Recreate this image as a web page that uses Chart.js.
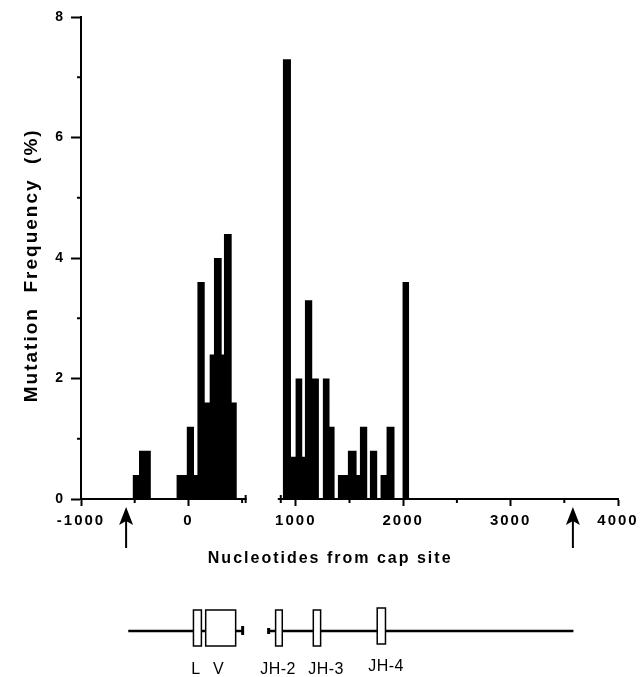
<!DOCTYPE html>
<html>
<head>
<meta charset="utf-8">
<script src="https://cdn.jsdelivr.net/npm/chart.js@4.4.1/dist/chart.umd.min.js"></script>
<style>
  html, body { margin: 0; padding: 0; background: #fff; }
  #wrap { position: relative; width: 641px; height: 677px; }
</style>
</head>
<body>
<div id="wrap"><canvas id="mutation-profile"></canvas></div>
<script>
// Histogram bins: left edge (nt from cap site) and mutation frequency (%) held until next edge
const binEdges = [-520, -460, -350, -110, -15, 52, 84, 152, 198, 238, 310, 331, 403, 450,
  880, 955, 998, 1060, 1085, 1153, 1215, 1252, 1314, 1361, 1392, 1485, 1566, 1597, 1665,
  1690, 1758, 1789, 1845, 1919, 1994, 2056];
const binValues = [0.4, 0.8, 0, 0.4, 1.2, 0.4, 3.6, 1.6, 2.4, 4.0, 2.4, 4.4, 1.6, 0,
  7.3, 0.7, 2.0, 0.7, 3.3, 2.0, 0, 2.0, 1.2, 0, 0.4, 0.8, 0.4, 1.2, 0,
  0.8, 0, 0.4, 1.2, 0, 3.6, 0];

// Axis marks
const xMinorTicks = [-500, 500, 1500, 2500, 3500];
const yMinorTicks = [1, 3, 5, 7];
const axisBreak = [533, 860];
const arrowMarks = [-580, 3580];

// Gene map below the axis (in the same nt coordinates)
const geneLine = [[-560, 505], [747, 3585]];
const geneNames = ['L', 'V', 'JH-2', 'JH-3', 'JH-4'];
const geneStarts = [47, 161, 812, 1163, 1758];
const geneEnds = [121, 440, 874, 1231, 1835];
const geneLabelAt = [70, 282, 835, 1282, 1840];

const FONT = '"Liberation Sans", Arial, Helvetica, sans-serif';
Chart.defaults.font.family = FONT;
Chart.defaults.color = '#000';

const seg = (ctx, x1, y1, x2, y2) => {
  ctx.beginPath();
  ctx.moveTo(x1, y1);
  ctx.lineTo(x2, y2);
  ctx.stroke();
};

const extras = {
  id: 'extras',
  beforeDraw(chart) {
    chart.ctx.letterSpacing = '2px';
  },
  afterDraw(chart) {
    const { ctx, chartArea, scales: { x, y } } = chart;
    const y0 = y.getPixelForValue(0);
    ctx.save();
    ctx.strokeStyle = '#000';
    ctx.fillStyle = '#000';
    ctx.lineWidth = 2;

    // short minor ticks
    yMinorTicks.forEach(v => {
      const py = y.getPixelForValue(v);
      seg(ctx, chartArea.left - 4, py, chartArea.left, py);
    });
    xMinorTicks.forEach(v => {
      const px = x.getPixelForValue(v);
      seg(ctx, px, y0, px, y0 + 4);
    });

    // break in the x axis
    const b0 = x.getPixelForValue(axisBreak[0]);
    const b1 = x.getPixelForValue(axisBreak[1]);
    ctx.fillStyle = '#fff';
    ctx.fillRect(b0 + 1, y0 - 2, b1 - b0 - 4, 4);
    ctx.fillStyle = '#000';
    seg(ctx, b0, y0 - 4, b0, y0 + 4);
    seg(ctx, b1, y0 - 4, b1, y0 + 4);

    // arrows under the axis
    arrowMarks.forEach(v => {
      const px = x.getPixelForValue(v);
      seg(ctx, px, 548, px, 520);
      ctx.beginPath();
      ctx.moveTo(px, 507);
      ctx.lineTo(px - 7, 525);
      ctx.lineTo(px, 521);
      ctx.lineTo(px + 7, 525);
      ctx.closePath();
      ctx.fill();
    });

    // gene map
    const gy = 631;
    ctx.lineWidth = 2.5;
    geneLine.forEach(([a, b]) => seg(ctx, x.getPixelForValue(a), gy, x.getPixelForValue(b), gy));
    ctx.lineWidth = 3;
    seg(ctx, x.getPixelForValue(geneLine[0][1]), gy - 5, x.getPixelForValue(geneLine[0][1]), gy + 4);
    seg(ctx, x.getPixelForValue(geneLine[1][0]), gy - 3, x.getPixelForValue(geneLine[1][0]), gy + 3);
    ctx.lineWidth = 1.5;
    geneNames.forEach((name, i) => {
      const px0 = x.getPixelForValue(geneStarts[i]);
      const px1 = x.getPixelForValue(geneEnds[i]);
      const top = name === 'JH-4' ? 608 : 610;
      ctx.fillStyle = '#fff';
      ctx.fillRect(px0, top, px1 - px0, 36);
      ctx.strokeRect(px0, top, px1 - px0, 36);
    });
    ctx.fillStyle = '#000';
    ctx.font = '16px ' + FONT;
    ctx.letterSpacing = '0.5px';
    ctx.textAlign = 'center';
    ctx.textBaseline = 'middle';
    geneNames.forEach((name, i) => {
      ctx.fillText(name, x.getPixelForValue(geneLabelAt[i]), name === 'JH-4' ? 667 : 670);
    });
    ctx.restore();
  },
};

const ctx = document.getElementById('mutation-profile');
const chart = new Chart(ctx, {
  type: 'line',
  data: {
    datasets: [{
      label: 'Mutation frequency',
      data: binEdges.map((e, i) => ({ x: e, y: binValues[i] })),
      stepped: 'before',
      fill: 'origin',
      backgroundColor: '#000',
      borderColor: '#000',
      borderWidth: 0,
      pointRadius: 0,
    }],
  },
  options: {
    animation: false,
    responsive: true,
    maintainAspectRatio: false,
    layout: {
      padding: { top: 17, right: 23, bottom: 108, left: 0 },
    },
    scales: {
      x: {
        type: 'linear',
        min: -1000,
        max: 4000,
        afterFit: (scale) => { scale.height = 70; },
        border: { color: '#000', width: 2 },
        grid: { drawOnChartArea: false, tickLength: 7, tickWidth: 2, tickColor: '#000' },
        ticks: {
          stepSize: 1000,
          padding: 6,
          maxRotation: 0,
          font: { size: 15, weight: 'bold' },
          callback: (v) => String(v),
        },
        title: {
          display: true,
          // trailing spaces pull the centred title a little left, as in the original
          text: 'Nucleotides from cap site      ',
          font: { size: 16, weight: 'bold' },
          padding: { top: 0, bottom: 1 },
        },
      },
      y: {
        min: 0,
        max: 8,
        afterFit: (scale) => { scale.width = 81; },
        border: { color: '#000', width: 2 },
        grid: { drawOnChartArea: false, tickLength: 10, tickWidth: 2, tickColor: '#000' },
        ticks: {
          stepSize: 2,
          padding: 6,
          font: { size: 14, weight: 'bold' },
        },
        title: {
          display: true,
          text: 'Mutation  Frequency  (%)  ',
          font: { size: 19, weight: 'bold' },
          padding: { top: 20, bottom: 0 },
        },
      },
    },
    plugins: {
      legend: { display: false },
      tooltip: { enabled: false },
    },
  },
  plugins: [extras],
});
</script>
</body>
</html>
